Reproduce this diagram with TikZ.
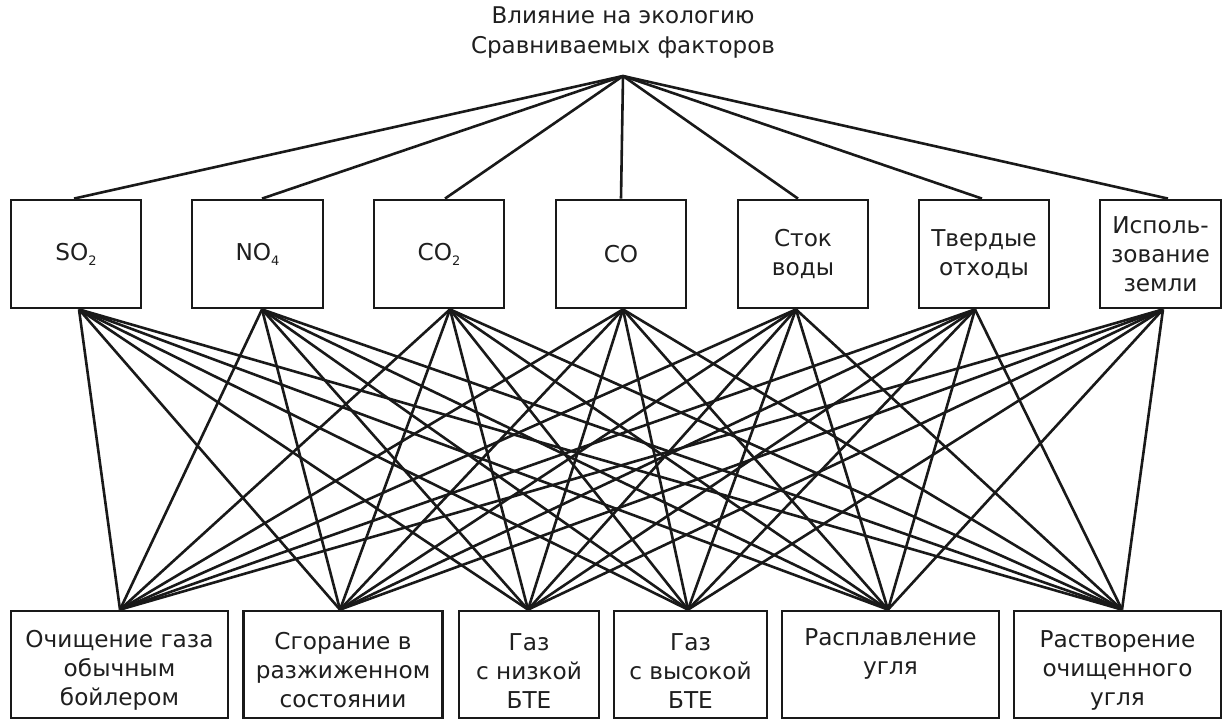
\documentclass[tikz,border=0pt]{standalone}
\usepackage{fontspec}
\setmainfont{DejaVu Sans}
\usetikzlibrary{calc}
\newcommand\chemsub[1]{\raisebox{-0.22em}{\fontsize{13}{13}\selectfont #1}}
\newcommand\lowstrut{\rule{0pt}{29pt}}
\begin{document}
\begin{tikzpicture}[x=1pt,y=-1pt,
  box/.style={draw=black!90, line width=2.8pt, minimum height=108pt, align=center, inner sep=0pt,
    font=\fontsize{23.2}{29}\selectfont, text=black!88},
  conn/.style={line width=2.6pt, draw=black!90}]
\useasboundingbox (0,0) rectangle (1223,721);
\fill[white] (0,0) rectangle (1223,721);
% title
\node[align=center, font=\fontsize{23}{30}\selectfont, text=black!88] (title) at (623,33)
  {Влияние на экологию\\Сравниваемых факторов};
\coordinate (apex) at (623,76);
% top boxes
\node[box, minimum width=130pt] (t1) at (76,254) {SO\chemsub{2}};
\node[box, minimum width=131pt] (t2) at (257.5,254) {NO\chemsub{4}};
\node[box, minimum width=130pt] (t3) at (439,254) {CO\chemsub{2}};
\node[box, minimum width=130pt] (t4) at (621,254) {CO};
\node[box, minimum width=130pt] (t5) at (803,254) {Сток\\воды};
\node[box, minimum width=130pt] (t6) at (984,254) {Твердые\\отходы};
\node[box, minimum width=121pt] (t7) at (1160.5,254) {Исполь-\\зование\\земли};
% bottom boxes
\node[box, minimum width=217pt, minimum height=107pt] (b1) at (119.5,664.5) {\lowstrut Очищение газа\\обычным\\бойлером};
\node[box, minimum width=199pt, minimum height=107pt] (b2) at (343,664.5) {\lowstrut Сгорание в\\разжиженном\\состоянии};
\node[box, minimum width=140pt, minimum height=107pt] (b3) at (529,664.5) {\lowstrut Газ\\с низкой\\БТЕ};
\node[box, minimum width=153pt, minimum height=107pt] (b4) at (690.5,664.5) {\lowstrut Газ\\с высокой\\БТЕ};
\node[box, minimum width=217pt, minimum height=107pt] (b5) at (890.5,664.5) {\lowstrut Расплавление\\угля\\\strut};
\node[box, minimum width=207pt, minimum height=107pt] (b6) at (1117.5,664.5) {\lowstrut Растворение\\очищенного\\угля};
% attachment points
\foreach \i/\dx in {1/-2,2/4.5,3/6,4/0,5/-5,6/-2,7/7.5}
  \coordinate (ta\i) at ($(t\i.north)+(\dx,0)$);
\foreach \i/\dx in {1/3,2/4.5,3/11,4/2,5/-7,6/-9,7/2.5}
  \coordinate (tb\i) at ($(t\i.south)+(\dx,0)$);
\foreach \j/\dx in {1/0.5,2/-3,3/-1,4/-2.5,5/-2.5,6/4.5}
  \coordinate (bt\j) at ($(b\j.north)+(\dx,0)$);
% connectors
\foreach \i in {1,...,7}
  \draw[conn] (apex) -- (ta\i);
\foreach \i in {1,...,7}
  \foreach \j in {1,...,6}
    \draw[conn] (tb\i) -- (bt\j);
\end{tikzpicture}
\end{document}
